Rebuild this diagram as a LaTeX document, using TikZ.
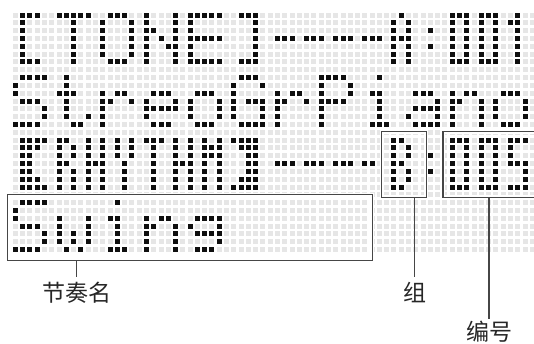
\documentclass[tikz,border=0pt]{standalone}
\usepackage{fontspec}
\usepackage{xcolor}
\usetikzlibrary{positioning}
\newfontfamily\cjk{Noto Sans CJK SC}
\definecolor{lcdink}{RGB}{15, 15, 15}
\definecolor{lcdpale}{RGB}{230, 230, 230}
\definecolor{framegray}{RGB}{70, 70, 70}

\begin{document}
\begin{tikzpicture}[
        x=1pt, y=-1pt,
        lcdoff/.style={fill=lcdpale},
        lcdon/.style={fill=lcdink},
        frame/.style={rectangle, draw=framegray, line width=1.2pt, anchor=north west, inner sep=0pt, preaction={draw=white, line width=4pt}},
        leader/.style={draw=framegray, line width=1.2pt},
        lbl/.style={font=\cjk\fontsize{23}{26}\selectfont, text=black!85, inner sep=0pt, anchor=north}
    ]
        \useasboundingbox (0,0) rectangle (534,343);

        % Dot matrix (72 x 31)
        \foreach \c in {0,...,71}
            \foreach \r in {0,...,30}
                \fill[lcdoff] ({15.4+7.28*\c-2.5},{15+7.82*\r-2.5}) rectangle ++(5,5);

        % Lit dots, row by row
        \foreach \r/\cols in {
            0/{1,2,3,6,7,8,9,10,13,14,15,18,22,24,25,26,27,28,31,32,33,53,60,61,62,64,65,66,69},
            1/{1,8,12,16,18,22,24,33,52,54,60,62,64,66,68,69},
            2/{1,8,12,16,18,19,22,24,33,52,54,57,60,62,64,66,69},
            3/{1,8,12,16,18,20,22,24,25,26,27,28,33,36,37,38,40,41,42,44,45,46,48,49,50,52,53,54,60,62,64,66,69},
            4/{1,8,12,16,18,21,22,24,33,52,54,57,60,62,64,66,69},
            5/{1,8,12,16,18,22,24,33,52,54,60,62,64,66,69},
            6/{1,2,3,8,13,14,15,18,22,24,25,26,27,28,31,32,33,52,54,60,61,62,64,65,66,69},
            8/{1,2,3,4,7,31,32,33,42,43,44,45,50},
            9/{0,7,30,34,42,46},
            10/{0,6,7,8,12,14,15,19,20,21,25,26,27,30,36,38,39,42,46,49,50,55,56,57,60,62,63,67,68,69},
            11/{1,2,3,7,12,13,16,18,22,24,28,30,32,33,34,36,37,40,42,43,44,45,50,58,60,61,64,66,70},
            12/{4,7,12,18,19,20,21,22,24,28,30,34,36,42,50,55,56,57,58,60,64,66,70},
            13/{4,7,10,12,18,24,28,30,34,36,42,50,54,58,60,64,66,70},
            14/{0,1,2,3,8,9,12,19,20,21,25,26,27,31,32,33,34,36,42,49,50,51,55,56,57,58,60,64,67,68,69},
            16/{1,2,3,4,6,7,10,12,14,16,18,19,20,22,24,26,28,30,31,32,33,52,53,60,61,62,64,65,66,68,69,70},
            17/{1,2,3,6,8,10,12,14,16,19,22,24,26,27,28,31,32,33,52,54,60,62,64,66,68},
            18/{1,2,6,8,10,12,14,16,19,22,24,26,27,28,32,33,52,54,57,60,62,64,66,68},
            19/{1,2,6,7,10,11,12,15,19,22,23,24,26,28,32,33,36,37,38,40,41,42,44,45,46,48,49,52,53,60,62,64,66,68,69,70},
            20/{1,2,6,8,10,12,15,19,22,24,26,28,32,33,52,54,57,60,62,64,66,70},
            21/{1,2,3,6,8,10,12,15,19,22,24,26,28,31,32,33,52,54,60,62,64,66,70},
            22/{1,2,3,4,6,8,10,12,15,19,22,24,26,28,30,31,32,33,52,53,60,61,62,64,65,66,68,69,70},
            24/{1,2,3,4,14},
            25/{0},
            26/{0,6,10,13,14,18,20,21,25,26,27,28},
            27/{1,2,3,6,10,14,18,19,22,24,28},
            28/{4,6,8,10,14,18,22,25,26,27,28},
            29/{4,6,8,10,14,18,22,28},
            30/{0,1,2,3,7,9,13,14,15,18,22,25,26,27}}
            \foreach \c in \cols
                \fill[lcdon] ({15.4+7.28*\c-2.5},{15+7.82*\r-2.5}) rectangle ++(5,5);

        % Frames
        \node (swing) [frame, minimum width=365pt, minimum height=66pt] at (6.7,194) {};
        \node (group) [frame, minimum width=44.7pt, minimum height=65.7pt] at (381,131) {};
        \node (number) [frame, minimum width=108pt, minimum height=65.7pt] at (442.3,131) {};

        % Labels
        \node (rhythmname) [lbl] at (76.5,282) {节奏名};
        \node (grouplbl) [lbl] at (414.5,282) {组};
        \node (numberlbl) [lbl] at (489,320.5) {编号};

        % Leaders
        \draw [leader] (rhythmname.north |- swing.south) -- ([yshift=5pt]rhythmname.north);
        \draw [leader] (grouplbl.north |- group.south) -- ([yshift=5pt]grouplbl.north);
        \draw [leader] (numberlbl.north |- number.south) -- ([yshift=2pt]numberlbl.north);

    \end{tikzpicture}
\end{document}
